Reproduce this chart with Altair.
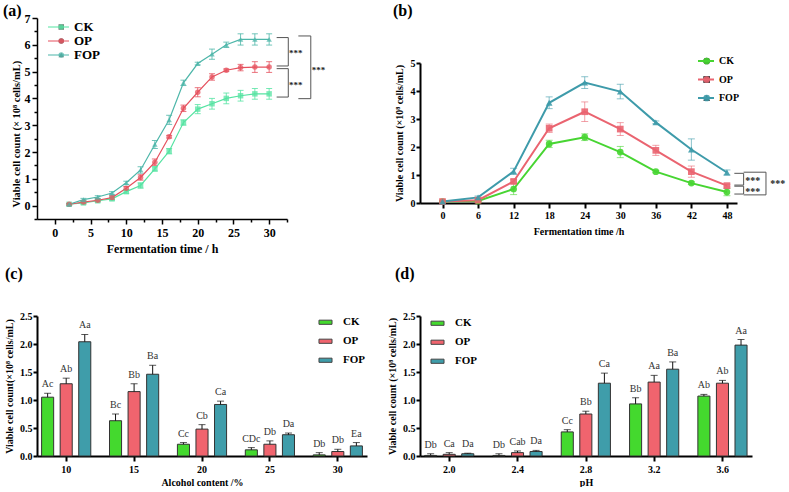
import math
import altair as alt
import pandas as pd

FONT = "Liberation Serif"
SERIES = ["CK", "OP", "FOP"]

# ---------------- panel (a) ----------------
time_a = [2, 4, 6, 8, 10, 12, 14, 16, 18, 20, 22, 24, 26, 28, 30]
ck_a = [0.05, 0.10, 0.18, 0.25, 0.52, 0.75, 1.37, 2.03, 3.10, 3.60, 3.80, 4.00, 4.10, 4.17, 4.17]
op_a = [0.05, 0.13, 0.20, 0.30, 0.65, 1.05, 1.62, 2.57, 3.63, 4.23, 4.80, 5.05, 5.15, 5.17, 5.17]
fop_a = [0.05, 0.22, 0.32, 0.47, 0.85, 1.33, 2.28, 3.20, 4.58, 5.30, 5.65, 6.00, 6.20, 6.20, 6.20]
ck_a_err = [0.03, 0.05, 0.05, 0.05, 0.06, 0.10, 0.08, 0.10, 0.10, 0.17, 0.20, 0.20, 0.20, 0.20, 0.20]
op_a_err = [0.03, 0.05, 0.05, 0.07, 0.06, 0.10, 0.12, 0.05, 0.12, 0.17, 0.12, 0.05, 0.12, 0.20, 0.20]
fop_a_err = [0.03, 0.05, 0.05, 0.05, 0.06, 0.12, 0.15, 0.17, 0.10, 0.05, 0.19, 0.10, 0.21, 0.21, 0.21]
colors_a = ["#55E3A2", "#E5515E", "#4DB6A9"]
shapes_a = ["square", "circle", "triangle-up"]
x_ticks_a = [0, 2.5, 5, 7.5, 10, 12.5, 15, 17.5, 20, 22.5, 25, 27.5, 30, 32.5]
y_ticks_a = [-0.5, 0, 0.5, 1, 1.5, 2, 2.5, 3, 3.5, 4, 4.5, 5, 5.5, 6, 6.5, 7]
# significance brackets (a)
br_a_x0 = [31.05, 31.05, 34.09]
br_a_xv = [32.68, 32.68, 35.83]
br_a_top = [6.27, 5.11, 6.33]
br_a_bot = [5.21, 4.05, 3.99]
star_a_x = [32.78, 32.78, 35.97]
star_a_y = [5.79, 4.61, 5.17]

# ---------------- panel (b) ----------------
time_b = [0, 6, 12, 18, 24, 30, 36, 42, 48]
ck_b = [0.05, 0.07, 0.50, 2.11, 2.35, 1.82, 1.12, 0.71, 0.39]
op_b = [0.05, 0.10, 0.77, 2.67, 3.26, 2.64, 1.88, 1.12, 0.62]
fop_b = [0.05, 0.20, 1.13, 3.58, 4.30, 3.98, 2.88, 1.91, 1.09]
ck_b_err = [0.02, 0.03, 0.20, 0.13, 0.12, 0.20, 0.04, 0.05, 0.13]
op_b_err = [0.02, 0.03, 0.06, 0.15, 0.35, 0.23, 0.18, 0.20, 0.05]
fop_b_err = [0.02, 0.05, 0.11, 0.21, 0.21, 0.26, 0.05, 0.38, 0.09]
colors_b = ["#47D532", "#EA6470", "#3E9BAA"]
shapes_b = ["circle", "square", "triangle-up"]
br_b_x0 = [49.25, 49.25, 50.82]
br_b_xv = [50.82, 50.82, 54.59]
br_b_top = [1.06, 0.60, 1.10]
br_b_bot = [0.64, 0.32, 0.29]
star_b_x = [51.1, 51.1, 55.3]
star_b_y = [0.83, 0.44, 0.71]

# ---------------- panel (c) ----------------
alcohol = ["10", "15", "20", "25", "30"]
ck_c = [1.05, 0.63, 0.21, 0.11, 0.02]
op_c = [1.29, 1.15, 0.48, 0.21, 0.08]
fop_c = [2.04, 1.46, 0.92, 0.38, 0.18]
ck_c_err = [0.07, 0.12, 0.03, 0.04, 0.04]
op_c_err = [0.10, 0.14, 0.08, 0.06, 0.04]
fop_c_err = [0.13, 0.16, 0.06, 0.03, 0.06]
ck_c_lab = ["Ac", "Bc", "Cc", "CDc", "Db"]
op_c_lab = ["Ab", "Bb", "Cb", "Db", "Db"]
fop_c_lab = ["Aa", "Ba", "Ca", "Da", "Ea"]

# ---------------- panel (d) ----------------
ph = ["2.0", "2.4", "2.8", "3.2", "3.6"]
ck_d = [0.01, 0.01, 0.43, 0.93, 1.07]
op_d = [0.03, 0.06, 0.75, 1.32, 1.30]
fop_d = [0.04, 0.08, 1.30, 1.55, 1.98]
ck_d_err = [0.03, 0.03, 0.04, 0.11, 0.03]
op_d_err = [0.03, 0.03, 0.05, 0.12, 0.05]
fop_d_err = [0.01, 0.02, 0.18, 0.13, 0.10]
ck_d_lab = ["Db", "Db", "Cc", "Bb", "Ab"]
op_d_lab = ["Ca", "Cab", "Bb", "Aa", "Ab"]
fop_d_lab = ["Da", "Da", "Ca", "Ba", "Aa"]

colors_bar = ["#44D92E", "#F0646E", "#3F9DAA"]


def line_table(x, vals, errs):
    rows = []
    for s, vs, es in zip(SERIES, vals, errs):
        for xi, v, e in zip(x, vs, es):
            rows.append({"x": xi, "series": s, "y": v, "lo": v - e, "hi": v + e})
    return pd.DataFrame(rows)


def bar_table(cats, vals, errs, labs):
    rows = []
    for s, vs, es, ls in zip(SERIES, vals, errs, labs):
        for c, v, e, l in zip(cats, vs, es, ls):
            rows.append({"cat": c, "series": s, "y": v, "hi": v + e, "lab": l})
    return pd.DataFrame(rows)


def bracket_table(x0, xv, top, bot):
    rows = []
    for a, v, t, b in zip(x0, xv, top, bot):
        rows.append({"x": a, "x2": v, "y": t, "y2": t})
        rows.append({"x": v, "x2": v, "y": t, "y2": b})
        rows.append({"x": a, "x2": v, "y": b, "y2": b})
    return pd.DataFrame(rows)


def axis(values, title, lsize, tsize, dwidth, tsize_tick, lpad, tpad, fmt=None, **kw):
    args = dict(title=title, grid=False, domainColor="black", domainWidth=dwidth,
                tickColor="black", tickWidth=dwidth, tickSize=tsize_tick, labelFont=FONT,
                labelFontWeight="bold", labelFontSize=lsize, labelColor="black", labelPadding=lpad,
                titleFont=FONT, titleFontWeight="bold", titleFontSize=tsize, titleColor="black",
                titlePadding=tpad, labelAngle=0)
    if values is not None:
        args["values"] = values
    if fmt:
        args["format"] = fmt
    args.update(kw)
    return alt.Axis(**args)


def line_panel(df, seg, stars, colors, shapes, xscale, yscale, xaxis, yaxis, w, h, title,
               leg_x, leg_y, line_w, pt_size, pt_opacity, err_opacity, cap, stroke_len,
               label_size, row_h, row_pad, star_size, star_dy):
    base = alt.Chart(df)

    def X(f):
        return alt.X(f, scale=xscale, axis=xaxis)

    def Y(f):
        return alt.Y(f, scale=yscale, axis=yaxis)

    cscale = alt.Scale(domain=SERIES, range=colors)
    col_nl = alt.Color("series:N", scale=cscale, legend=None)
    err = base.mark_rule(strokeWidth=1, opacity=err_opacity).encode(
        x=X("x:Q"), y=Y("lo:Q"), y2="hi:Q", color=col_nl)
    caps = base.transform_fold(["lo", "hi"], as_=["end", "v"]).mark_tick(
        orient="horizontal", size=cap, thickness=1, opacity=err_opacity).encode(
        x=X("x:Q"), y=Y("v:Q"), color=col_nl)
    leg_common = dict(orient="none", legendY=leg_y, title=None, labelFont=FONT,
                      labelFontWeight="bold", labelFontSize=label_size, labelColor="black",
                      rowPadding=row_pad, clipHeight=row_h, padding=0)
    line_leg = alt.Legend(legendX=leg_x, symbolType="stroke", symbolSize=stroke_len ** 2,
                          symbolStrokeWidth=line_w, labelOffset=4, **leg_common)
    line = base.mark_line(strokeWidth=line_w).encode(
        x=X("x:Q"), y=Y("y:Q"), color=alt.Color("series:N", scale=cscale, legend=line_leg))
    pt_leg = alt.Legend(legendX=leg_x + (stroke_len - math.sqrt(pt_size)) / 2,
                        symbolSize=pt_size, labelExpr="''", **leg_common)
    pts = base.mark_point(filled=True, size=pt_size, opacity=pt_opacity).encode(
        x=X("x:Q"), y=Y("y:Q"),
        color=alt.Color("series:N", scale=cscale, legend=pt_leg),
        shape=alt.Shape("series:N", scale=alt.Scale(domain=SERIES, range=shapes), legend=pt_leg))
    segs = alt.Chart(seg).mark_rule(color="#555555", strokeWidth=1).encode(
        x=X("x:Q"), x2="x2:Q", y=Y("y:Q"), y2="y2:Q")
    txt = alt.Chart(stars).mark_text(align="left", baseline="middle", font=FONT,
                                     fontSize=star_size, fontWeight="bold", color="#222222",
                                     dy=star_dy).encode(x=X("x:Q"), y=Y("y:Q"), text="t:N")
    return alt.layer(err, caps, line, pts, segs, txt).resolve_legend(
        color="independent").properties(width=w, height=h, title=title)


def bar_panel(df, cats, xaxis, yaxis, w, h, title, leg_x, leg_y):
    base = alt.Chart(df)
    X = alt.X("cat:N", sort=cats, scale=alt.Scale(domain=cats, paddingInner=0.18, paddingOuter=0.02),
              axis=xaxis)
    XO = alt.XOffset("series:N", sort=SERIES,
                     scale=alt.Scale(domain=SERIES, paddingInner=0.35, paddingOuter=0.175))
    ys = alt.Scale(domain=[0, 2.5], nice=False)

    def Y(f):
        return alt.Y(f, scale=ys, axis=yaxis)

    leg = alt.Legend(orient="none", legendX=leg_x, legendY=leg_y, title=None, padding=0,
                     symbolType="M-1,-0.32H1V0.32H-1Z", symbolSize=170,
                     symbolStrokeColor="#444444", symbolStrokeWidth=1,
                     labelFont=FONT, labelFontWeight="bold", labelFontSize=11,
                     labelColor="black", rowPadding=6, clipHeight=12.5, labelOffset=10)
    bars = base.mark_bar(stroke="#333333", strokeWidth=1).encode(
        x=X, xOffset=XO, y=Y("y:Q"),
        color=alt.Color("series:N", scale=alt.Scale(domain=SERIES, range=colors_bar), legend=leg))
    err = base.mark_rule(color="#111111", strokeWidth=1).encode(
        x=X, xOffset=XO, y=Y("y:Q"), y2="hi:Q")
    cap = base.mark_tick(orient="horizontal", size=7, thickness=1, color="#111111").encode(
        x=X, xOffset=XO, y=Y("hi:Q"))
    lab = base.mark_text(baseline="bottom", dy=-4, font=FONT, fontSize=10, color="#333333").encode(
        x=X, xOffset=XO, y=Y("hi:Q"), text="lab:N")
    return alt.layer(bars, err, cap, lab).properties(width=w, height=h, title=title)


def panel_title(t, dx, offset):
    return alt.TitleParams(text=t, anchor="start", frame="group", dx=dx, offset=offset,
                           font=FONT, fontSize=16, fontWeight="bold", color="black")


# ---- build (a)
df_a = line_table(time_a, [ck_a, op_a, fop_a], [ck_a_err, op_a_err, fop_a_err])
seg_a = bracket_table(br_a_x0, br_a_xv, br_a_top, br_a_bot)
stars_a = pd.DataFrame({"x": star_a_x, "y": star_a_y, "t": ["***"] * 3})
major_x = {"condition": {"test": "datum.value % 5 === 0", "value": 5}, "value": 3}
major_y = {"condition": {"test": "datum.value % 1 === 0", "value": 5}, "value": 3}
chart_a = line_panel(
    df_a, seg_a, stars_a, colors_a, shapes_a,
    alt.Scale(domain=[-2.5, 32.5], nice=False, zero=False),
    alt.Scale(domain=[-0.5, 7], nice=False, zero=False),
    axis(x_ticks_a, "Fermentation time / h", 12, 12, 1.5, major_x, 3, 5,
         labelExpr="datum.value % 5 === 0 ? format(datum.value, 'd') : ''"),
    axis(y_ticks_a, "Viable cell count (× 10⁸ cells/mL)", 12, 10.5, 1.5, major_y, 2, 3,
         labelExpr="datum.value % 1 === 0 ? format(datum.value, 'd') : ''",
         titleAnchor="start", titleY=189),
    250, 201, panel_title("(a)", -34, -7),
    10, 2.5, 1.2, 30, 0.75, 0.8, 6, 21, 13, 13, 0, 9, 3)

# ---- build (b)
df_b = line_table(time_b, [ck_b, op_b, fop_b], [ck_b_err, op_b_err, fop_b_err])
seg_b = bracket_table(br_b_x0, br_b_xv, br_b_top, br_b_bot)
stars_b = pd.DataFrame({"x": star_b_x, "y": star_b_y, "t": ["***"] * 3})
chart_b = line_panel(
    df_b, seg_b, stars_b, colors_b, shapes_b,
    alt.Scale(domain=[-3.8, 49.7], nice=False, zero=False),
    alt.Scale(domain=[0, 5], nice=False, zero=False, range=[185, 45]),
    axis([0, 6, 12, 18, 24, 30, 36, 42, 48], "Fermentation time /h", 10, 10, 2, 5, 2, 6),
    axis([0, 1, 2, 3, 4, 5], "Viable cell count (×10⁸ cells/mL)", 10, 10, 2, 4, 1, 6),
    317, 185, panel_title("(b)", -27, -1),
    277, 37, 2, 45, 0.9, 0.6, 7, 16, 10, 12, 6.5, 10, 1)

# ---- build (c)
df_c = bar_table(alcohol, [ck_c, op_c, fop_c], [ck_c_err, op_c_err, fop_c_err],
                 [ck_c_lab, op_c_lab, fop_c_lab])
chart_c = bar_panel(
    df_c, alcohol,
    axis(None, "Alcohol content /%", 10, 10, 2, 5, 3, 3),
    axis([0, 0.5, 1.0, 1.5, 2.0, 2.5], "Viable cell count(×10⁸ cells/mL)", 10, 10, 2, 4, 1, 5,
         fmt=".1f"),
    330, 140, panel_title("(c)", -32, 29), 281, 0)

# ---- build (d)
df_d = bar_table(ph, [ck_d, op_d, fop_d], [ck_d_err, op_d_err, fop_d_err],
                 [ck_d_lab, op_d_lab, fop_d_lab])
chart_d = bar_panel(
    df_d, ph,
    axis(None, "pH", 10, 10, 2, 5, 3, 3),
    axis([0, 0.5, 1.0, 1.5, 2.0, 2.5], "Viable cell count (×10⁸ cells/mL)", 10, 10, 2, 4, 1, 5,
         fmt=".1f"),
    332, 140, panel_title("(d)", -25, 29), 10, 1)

chart = alt.concat(
    chart_a, chart_b, chart_c, chart_d, columns=2,
    spacing={"row": 97, "column": 53}, bounds="flush",
).resolve_scale(color="independent", shape="independent"
).resolve_legend(color="independent", shape="independent"
).properties(padding={"left": 3, "top": 3, "right": 0, "bottom": 0}, background="white"
).configure_view(stroke=None)

chart.save("out.html", embed_options={"renderer": "svg", "actions": False})
